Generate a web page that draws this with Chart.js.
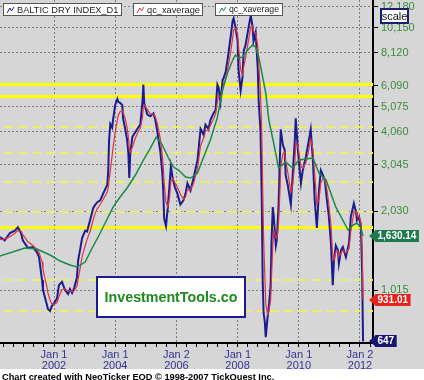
<!DOCTYPE html>
<html><head><meta charset="utf-8">
<script src="https://cdn.jsdelivr.net/npm/chart.js@4/dist/chart.umd.min.js"></script>
<style>html,body{margin:0;padding:0;background:#fff;overflow:hidden}canvas{display:block}</style>
</head><body>
<canvas id="c" width="424" height="380" style="width:424px;height:380px"></canvas>
<script>
// ---- data ----
const seriesNames = ["BALTIC DRY INDEX_D1", "qc_xaverage", "qc_xaverage"];

const bdiDates = [
2000.23,2000.39,2000.56,2000.72,2000.82,2000.92,2000.98,
2001.15,2001.31,2001.44,2001.51,2001.61,2001.64,2001.70,2001.77,2001.80,2001.87,2001.93,
2002.00,2002.10,2002.16,2002.26,2002.36,2002.46,2002.52,2002.59,2002.66,2002.75,2002.79,2002.85,2002.92,
2003.02,2003.08,2003.18,2003.28,2003.34,2003.41,2003.51,2003.61,2003.74,2003.77,2003.80,2003.84,2003.90,2003.93,
2004.00,2004.07,2004.10,2004.16,2004.23,2004.26,2004.33,2004.39,2004.43,2004.46,2004.49,2004.56,2004.66,2004.72,2004.82,2004.89,2004.92,2004.95,
2005.05,2005.15,2005.25,2005.31,2005.38,2005.48,2005.54,2005.57,2005.60,2005.66,2005.72,2005.78,2005.82,2005.88,2005.95,
2006.03,2006.13,2006.23,2006.30,2006.36,2006.46,2006.56,2006.69,2006.79,2006.89,2006.95,
2007.05,2007.11,2007.21,2007.28,2007.34,2007.38,2007.44,2007.51,2007.54,2007.61,2007.67,2007.77,2007.84,2007.87,2007.93,
2008.00,2008.03,2008.10,2008.16,2008.20,2008.26,2008.33,2008.43,2008.49,2008.52,2008.59,2008.66,2008.69,2008.75,2008.79,2008.82,2008.85,2008.89,2008.92,2008.98,
2009.02,2009.08,2009.11,2009.15,2009.18,2009.25,2009.28,2009.31,2009.34,2009.38,2009.41,2009.48,2009.54,2009.57,2009.64,2009.74,2009.80,2009.87,2009.90,2009.97,
2010.07,2010.13,2010.23,2010.30,2010.39,2010.46,2010.52,2010.59,2010.66,2010.72,2010.79,2010.85,2010.92,2010.98,
2011.05,2011.11,2011.15,2011.21,2011.28,2011.31,2011.38,2011.44,2011.54,2011.64,2011.70,2011.80,2011.87,2011.90,2011.97,
2012.03,2012.07,2012.10
];
const bdiValues = [
1616,1570,1674,1710,1760,1674,1570,
1467,1480,1417,1355,1105,1015,955,890,860,845,882,
905,945,1060,1090,1015,980,1024,990,1033,1135,1321,1440,1604,
1710,1695,1876,2080,2140,2190,2230,2370,2550,2850,3780,4350,4220,4520,
5150,5430,5290,5240,5150,4560,4150,3780,3380,2710,3320,3890,4060,4170,4330,5290,6150,5210,
4730,4660,4780,4520,4060,3380,2830,2430,1900,1780,2100,2600,3000,2700,2500,
2370,2150,2230,2370,2590,2430,2710,3175,4170,3960,4330,
4170,4510,4780,4920,6150,5990,5290,6400,6500,6880,7630,9300,10800,11000,10200,
9000,7050,5830,6570,8280,8700,9720,11300,10200,9000,9720,7050,5290,4060,2230,1105,830,766,672,800,
875,1060,1570,2100,1950,1500,1570,1830,2150,3175,4150,3620,3470,2780,2550,2150,2780,3780,4580,3470,
2590,2900,3260,3620,4150,3175,2230,1750,2430,2900,2780,2660,2230,1950,
1530,1060,1320,1500,1440,1280,1440,1480,1355,1530,1930,2170,2010,1870,1930,
1770,1180,647
];
// short average (red), same dates as the index
const fastAvgValues = [
1580,1590,1620,1670,1710,1700,1650,
1550,1500,1450,1410,1300,1220,1130,1040,990,930,900,
895,910,960,1020,1025,1005,1010,1000,1010,1050,1120,1220,1360,
1500,1580,1700,1880,1980,2070,2150,2250,2400,2480,2650,2900,3300,3550,
4050,4500,4700,4850,4900,4820,4550,4200,3900,3500,3400,3550,3850,4000,4200,4600,5100,5150,
4950,4750,4750,4650,4350,3800,3300,3000,2600,2200,2100,2300,2650,2700,2600,
2500,2350,2250,2300,2450,2450,2580,2950,3600,3850,4100,
4150,4300,4550,4750,5300,5600,5500,5900,6150,6500,7000,8100,9300,9900,10100,
9600,8600,7000,6700,7200,7800,8700,10200,10300,9800,9700,8600,7300,5700,4000,2500,1600,1150,900,820,
840,930,1150,1500,1700,1620,1600,1680,1850,2350,3000,3350,3400,3150,2850,2400,2550,3100,3700,3600,
3000,2950,3100,3350,3800,3500,2800,2150,2250,2600,2700,2680,2450,2150,
1800,1350,1320,1420,1430,1360,1400,1440,1400,1460,1700,2000,2020,1950,1930,
1850,1450,931.01
];
// long average (green)
const slowAvgDates = [
2000.23,2001.05,2001.44,2001.87,2002.20,2002.52,2002.75,2003.02,2003.18,2003.51,2003.93,
2004.16,2004.39,2004.66,2004.92,2005.15,2005.34,2005.54,2005.74,2005.90,2006.07,2006.30,
2006.46,2006.69,2006.89,2007.11,2007.34,2007.51,2007.67,2007.84,2007.93,2008.03,2008.16,
2008.33,2008.49,2008.59,2008.69,2008.82,2008.92,2009.02,2009.18,2009.34,2009.57,2009.80,
2010.00,2010.46,2010.66,2010.89,2011.21,2011.61,2011.77,2011.90,2012.03,2012.10
];
const slowAvgValues = [
1367,1467,1455,1380,1309,1264,1242,1298,1417,1674,2102,
2296,2484,2784,3175,3527,3884,3621,3232,2986,2908,2735,
2712,2833,3260,3784,4616,5866,6809,7631,7974,7768,7837,
8332,8705,8555,7837,6574,5713,4510,3685,2960,3119,2960,
3175,3232,2833,2664,2102,1718,1795,1827,1748,1630.14
];

const yTickValues = [1015,2030,3045,4060,5075,6090,8120,10150,12180];
const xTickYears = [2002,2004,2006,2008,2010,2012];
const xTickDays = ["Jan 1","Jan 1","Jan 2","Jan 1","Jan 1","Jan 2"];
const solidLevels = [6185,5565,1764];
const dashedLevels = [4241,3375,2618,2012,1108,844];
const watermark = "InvestmentTools.co";
const footer = "Chart created with NeoTicker EOD \u00a9 1998-2007 TickQuest Inc.";

// ---- chart ----
const FONT = "'Liberation Sans', Arial, sans-serif";
Chart.defaults.font.family = FONT;

const pts = (xs, ys) => xs.map((x, i) => ({x, y: ys[i]}));
const isMajor = v => { const r = Math.round(v); return Math.abs(v - r) < 1e-6 && xTickYears.includes(r); };

function fitFont(ctx, text, weight, maxSize, width) {
  let s = maxSize;
  for (; s > 6; s -= 0.25) {
    ctx.font = `${weight} ${s}px ${FONT}`;
    if (ctx.measureText(text).width <= width) break;
  }
  return s;
}

const decor = {
  id: 'decor',
  beforeDraw(chart) {
    const c = chart.ctx;
    c.save();
    c.fillStyle = '#d6d6d6';
    c.fillRect(0, 0, chart.width, chart.height);
    c.fillStyle = '#ffffff';
    c.fillRect(0, 369, chart.width, chart.height - 369);
    c.restore();
  },
  beforeDatasetsDraw(chart) {
    const {ctx, chartArea: a, scales: {y}} = chart;
    ctx.save();
    ctx.beginPath();
    ctx.rect(a.left, a.top, a.right - a.left, a.bottom - a.top);
    ctx.clip();
    ctx.strokeStyle = '#ecec6e';
    ctx.lineWidth = 2;
    ctx.setLineDash([9, 5]);
    dashedLevels.forEach(v => {
      const py = Math.round(y.getPixelForValue(v));
      ctx.beginPath(); ctx.moveTo(a.left + 4, py); ctx.lineTo(a.right, py); ctx.stroke();
    });
    ctx.setLineDash([]);
    ctx.strokeStyle = '#ffff00';
    ctx.lineWidth = 3;
    solidLevels.forEach(v => {
      const py = Math.round(y.getPixelForValue(v)) + 0.5;
      ctx.beginPath(); ctx.moveTo(a.left, py); ctx.lineTo(a.right, py); ctx.stroke();
    });
    ctx.restore();
  },
  afterDatasetsDraw(chart) {
    const ctx = chart.ctx;
    ctx.save();
    // watermark box
    ctx.fillStyle = '#ffffff';
    ctx.fillRect(97, 277, 148, 40);
    ctx.strokeStyle = '#1c1c90';
    ctx.lineWidth = 2;
    ctx.strokeRect(97, 277, 148, 40);
    const s = fitFont(ctx, watermark, 'bold', 16, 134);
    ctx.font = `bold ${s}px ${FONT}`;
    ctx.fillStyle = '#1d8a1d';
    ctx.textAlign = 'center';
    ctx.textBaseline = 'middle';
    ctx.fillText(watermark, 171, 298);
    ctx.restore();
  },
  afterDraw(chart) {
    const ctx = chart.ctx;
    const y = chart.scales.y;
    ctx.save();
    // legend boxes
    const boxes = [[3, 119, '#1c1c8f'], [133, 70, '#dd3344'], [215, 68, '#1a8a4a']];
    boxes.forEach((b, i) => {
      const [bx, bw, col] = b;
      ctx.fillStyle = '#ffffff';
      ctx.fillRect(bx, 3, bw, 13);
      ctx.strokeStyle = '#555';
      ctx.lineWidth = 1;
      ctx.strokeRect(bx + 0.5, 3.5, bw - 1, 12);
      ctx.strokeStyle = col;
      ctx.lineWidth = 1;
      ctx.beginPath();
      ctx.moveTo(bx + 4, 13); ctx.lineTo(bx + 7, 8); ctx.lineTo(bx + 8.5, 11); ctx.lineTo(bx + 11, 7);
      ctx.stroke();
      const avail = bw - 17;
      const fs = fitFont(ctx, seriesNames[i], 'normal', 11, avail);
      ctx.font = `normal ${fs}px ${FONT}`;
      ctx.fillStyle = '#222';
      ctx.textAlign = 'left';
      ctx.textBaseline = 'middle';
      ctx.fillText(seriesNames[i], bx + 14, 10);
    });
    // scale box
    ctx.fillStyle = '#fff';
    ctx.fillRect(381, 9, 27, 14);
    ctx.strokeStyle = '#1c1c70';
    ctx.lineWidth = 2;
    ctx.strokeRect(381, 9, 27, 14);
    ctx.font = `11px ${FONT}`;
    ctx.fillStyle = '#111';
    ctx.textAlign = 'center';
    ctx.textBaseline = 'middle';
    ctx.fillText('scale', 394.5, 16.5);
    // value flags
    const flags = [
      [slowAvgValues[slowAvgValues.length - 1], '#1e7a4c'],
      [fastAvgValues[fastAvgValues.length - 1], '#e5221c'],
      [bdiValues[bdiValues.length - 1], '#161670']
    ];
    flags.forEach(([v, col]) => {
      const cy = Math.round(y.getPixelForValue(v));
      const txt = v.toLocaleString('en-US', {minimumFractionDigits: v % 1 ? 2 : 0, maximumFractionDigits: 2});
      ctx.font = `bold 10px ${FONT}`;
      const w = ctx.measureText(txt).width + 5;
      ctx.fillStyle = col;
      ctx.beginPath();
      ctx.moveTo(369, cy); ctx.lineTo(375, cy - 5); ctx.lineTo(375, cy + 5); ctx.closePath();
      ctx.fill();
      ctx.fillRect(375, cy - 6, w, 12);
      ctx.fillStyle = '#ffffff';
      ctx.textAlign = 'left';
      ctx.textBaseline = 'middle';
      ctx.fillText(txt, 377.5, cy + 0.5);
    });
    // footer
    const fs = fitFont(ctx, footer, 'bold', 11, 276);
    ctx.font = `bold ${fs}px ${FONT}`;
    ctx.fillStyle = '#000';
    ctx.textAlign = 'left';
    ctx.textBaseline = 'alphabetic';
    ctx.fillText(footer, 2, 380);
    ctx.restore();
  }
};

new Chart(document.getElementById('c'), {
  type: 'line',
  data: {
    datasets: [
      {label: seriesNames[2], data: pts(slowAvgDates, slowAvgValues), borderColor: '#1a8a4a', borderWidth: 1.5, order: 1},
      {label: seriesNames[1], data: pts(bdiDates, fastAvgValues), borderColor: '#dd3344', borderWidth: 1.2, order: 2},
      {label: seriesNames[0], data: pts(bdiDates, bdiValues), borderColor: '#1c1c8f', borderWidth: 2, order: 3}
    ]
  },
  options: {
    responsive: false,
    animation: false,
    devicePixelRatio: 1,
    layout: {padding: 0},
    elements: {point: {radius: 0}, line: {tension: 0, fill: false}},
    plugins: {legend: {display: false}, tooltip: {enabled: false}},
    scales: {
      x: {
        type: 'linear', position: 'bottom', min: 2000.235, max: 2012.425,
        afterBuildTicks(scale) {
          const t = [];
          for (let k = 0; k <= 40; k++) { const v = 2000 + k / 3; if (v >= scale.min && v <= scale.max) t.push({value: v}); }
          scale.ticks = t;
        },
        afterFit(scale) { scale.height = 37; scale.paddingLeft = 0; scale.paddingRight = 0; },
        ticks: {
          autoSkip: false, maxRotation: 0, minRotation: 0, padding: 3, color: '#33339a',
          font: {size: 11, lineHeight: 0.95},
          callback(v) { const r = Math.round(v); if (isMajor(v)) { const i = xTickYears.indexOf(r); return [xTickDays[i], String(r)]; } return ''; }
        },
        grid: {
          color: ctx => (ctx.tick && isMajor(ctx.tick.value)) ? '#7c7c7c' : 'rgba(0,0,0,0)',
          tickColor: '#000', tickLength: 4, lineWidth: 1, tickBorderDash: []
        },
        border: {display: true, color: '#000', width: 2, dash: [2, 2]}
      },
      y: {
        type: 'logarithmic', position: 'right', min: 638, max: 12920,
        afterBuildTicks(scale) { scale.ticks = yTickValues.map(v => ({value: v})); },
        afterFit(scale) { scale.width = 51; scale.paddingTop = 0; scale.paddingBottom = 0; },
        ticks: {
          autoSkip: false, padding: 3, color: '#3c8c3c', font: {size: 11},
          callback: v => Number(v).toLocaleString('en-US')
        },
        grid: {color: '#7c7c7c', tickColor: '#000', tickLength: 5, lineWidth: 1, tickBorderDash: []},
        border: {display: true, color: '#000', width: 2, dash: [2, 2]}
      }
    }
  },
  plugins: [decor]
});
</script>
</body></html>
